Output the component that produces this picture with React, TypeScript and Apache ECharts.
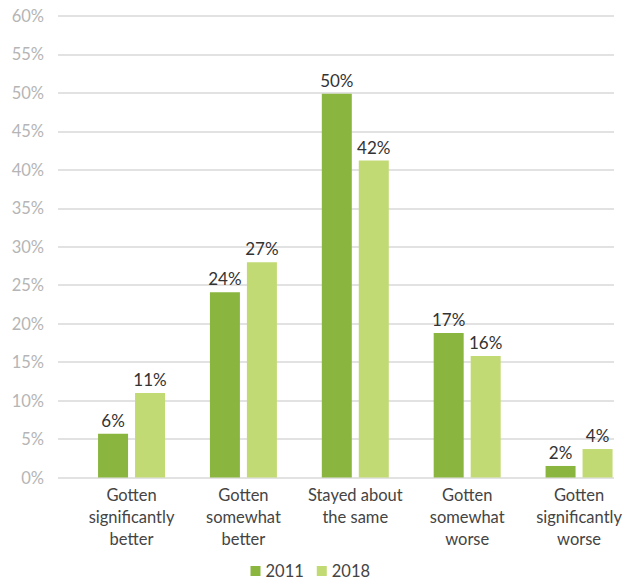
import React, { useEffect, useRef } from "react";
import * as echarts from "echarts";

const categories = [
  "Gotten\nsignificantly\nbetter",
  "Gotten\nsomewhat\nbetter",
  "Stayed about\nthe same",
  "Gotten\nsomewhat\nworse",
  "Gotten\nsignificantly\nworse",
];
const values2011 = [5.7, 24.1, 49.9, 18.8, 1.5];
const values2018 = [11.0, 28.0, 41.2, 15.8, 3.7];
const labels2011 = ["6%", "24%", "50%", "17%", "2%"];
const labels2018 = ["11%", "27%", "42%", "16%", "4%"];
const seriesNames = ["2011", "2018"];
const colors = ["#8ab63f", "#c2da74"];

const FONT = "Lato, 'Open Sans', sans-serif";
const CW = 640;

export default function App() {
  const ref = useRef<HTMLDivElement>(null);
  useEffect(() => {
    if (!ref.current) return;
    const chart = echarts.init(ref.current, null, { renderer: "svg" });
    const top = 16;
    const bottom = 103.5;
    chart.setOption({
      animation: false,
      textStyle: { fontFamily: FONT },
      legend: {
        data: seriesNames,
        left: 245.5,
        top: 557.5,
        padding: 5,
        icon: "rect",
        itemWidth: 10,
        itemHeight: 10,
        itemGap: 13,
        textStyle: { fontSize: 16.5, color: "#444", fontFamily: FONT },
      },
      grid: [
        { left: 75.6, right: CW - 635, top, bottom, containLabel: false },
        { left: 58, right: CW - 614, top, bottom, containLabel: false },
      ],
      xAxis: [
        {
          type: "category",
          gridIndex: 0,
          data: categories,
          axisLine: { show: false },
          axisTick: { show: false },
          axisLabel: {
            margin: 6,
            fontSize: 16.5,
            lineHeight: 22,
            color: "#444",
            fontFamily: FONT,
            interval: 0,
          },
        },
        {
          type: "value",
          gridIndex: 1,
          show: false,
          min: 0,
          max: 1,
        },
      ],
      yAxis: [
        {
          type: "value",
          gridIndex: 0,
          min: 0,
          max: 60,
          interval: 5,
          show: false,
          splitLine: { show: false },
        },
        {
          type: "value",
          gridIndex: 1,
          min: 0,
          max: 60,
          interval: 5,
          axisLine: { show: false },
          axisTick: { show: false },
          axisLabel: {
            formatter: "{value}%",
            fontSize: 16.5,
            color: "#b5b5b5",
            margin: 14,
            fontFamily: FONT,
          },
          splitLine: { show: true, lineStyle: { color: "#d9d9d9", width: 1.5 } },
        },
      ],
      series: [
        {
          name: seriesNames[0],
          type: "bar",
          xAxisIndex: 0,
          yAxisIndex: 0,
          data: values2011,
          barWidth: 30,
          barGap: "23.3%",
          itemStyle: { color: colors[0] },
          label: {
            show: true,
            position: "top",
            distance: 5,
            fontSize: 17,
            color: "#333",
            fontFamily: FONT,
            formatter: (p: any) => labels2011[p.dataIndex],
          },
        },
        {
          name: seriesNames[1],
          type: "bar",
          xAxisIndex: 0,
          yAxisIndex: 0,
          data: values2018,
          barWidth: 30,
          barGap: "23.3%",
          itemStyle: { color: colors[1] },
          label: {
            show: true,
            position: "top",
            distance: 5,
            fontSize: 17,
            color: "#333",
            fontFamily: FONT,
            formatter: (p: any) => labels2018[p.dataIndex],
          },
        },
      ],
    });
    return () => chart.dispose();
  }, []);
  return (
    <div
      style={{
        position: "absolute",
        left: 0,
        top: 0,
        width: 628,
        height: 581,
        overflow: "hidden",
      }}
    >
      <div ref={ref} style={{ width: CW, height: 581 }} />
    </div>
  );
}
